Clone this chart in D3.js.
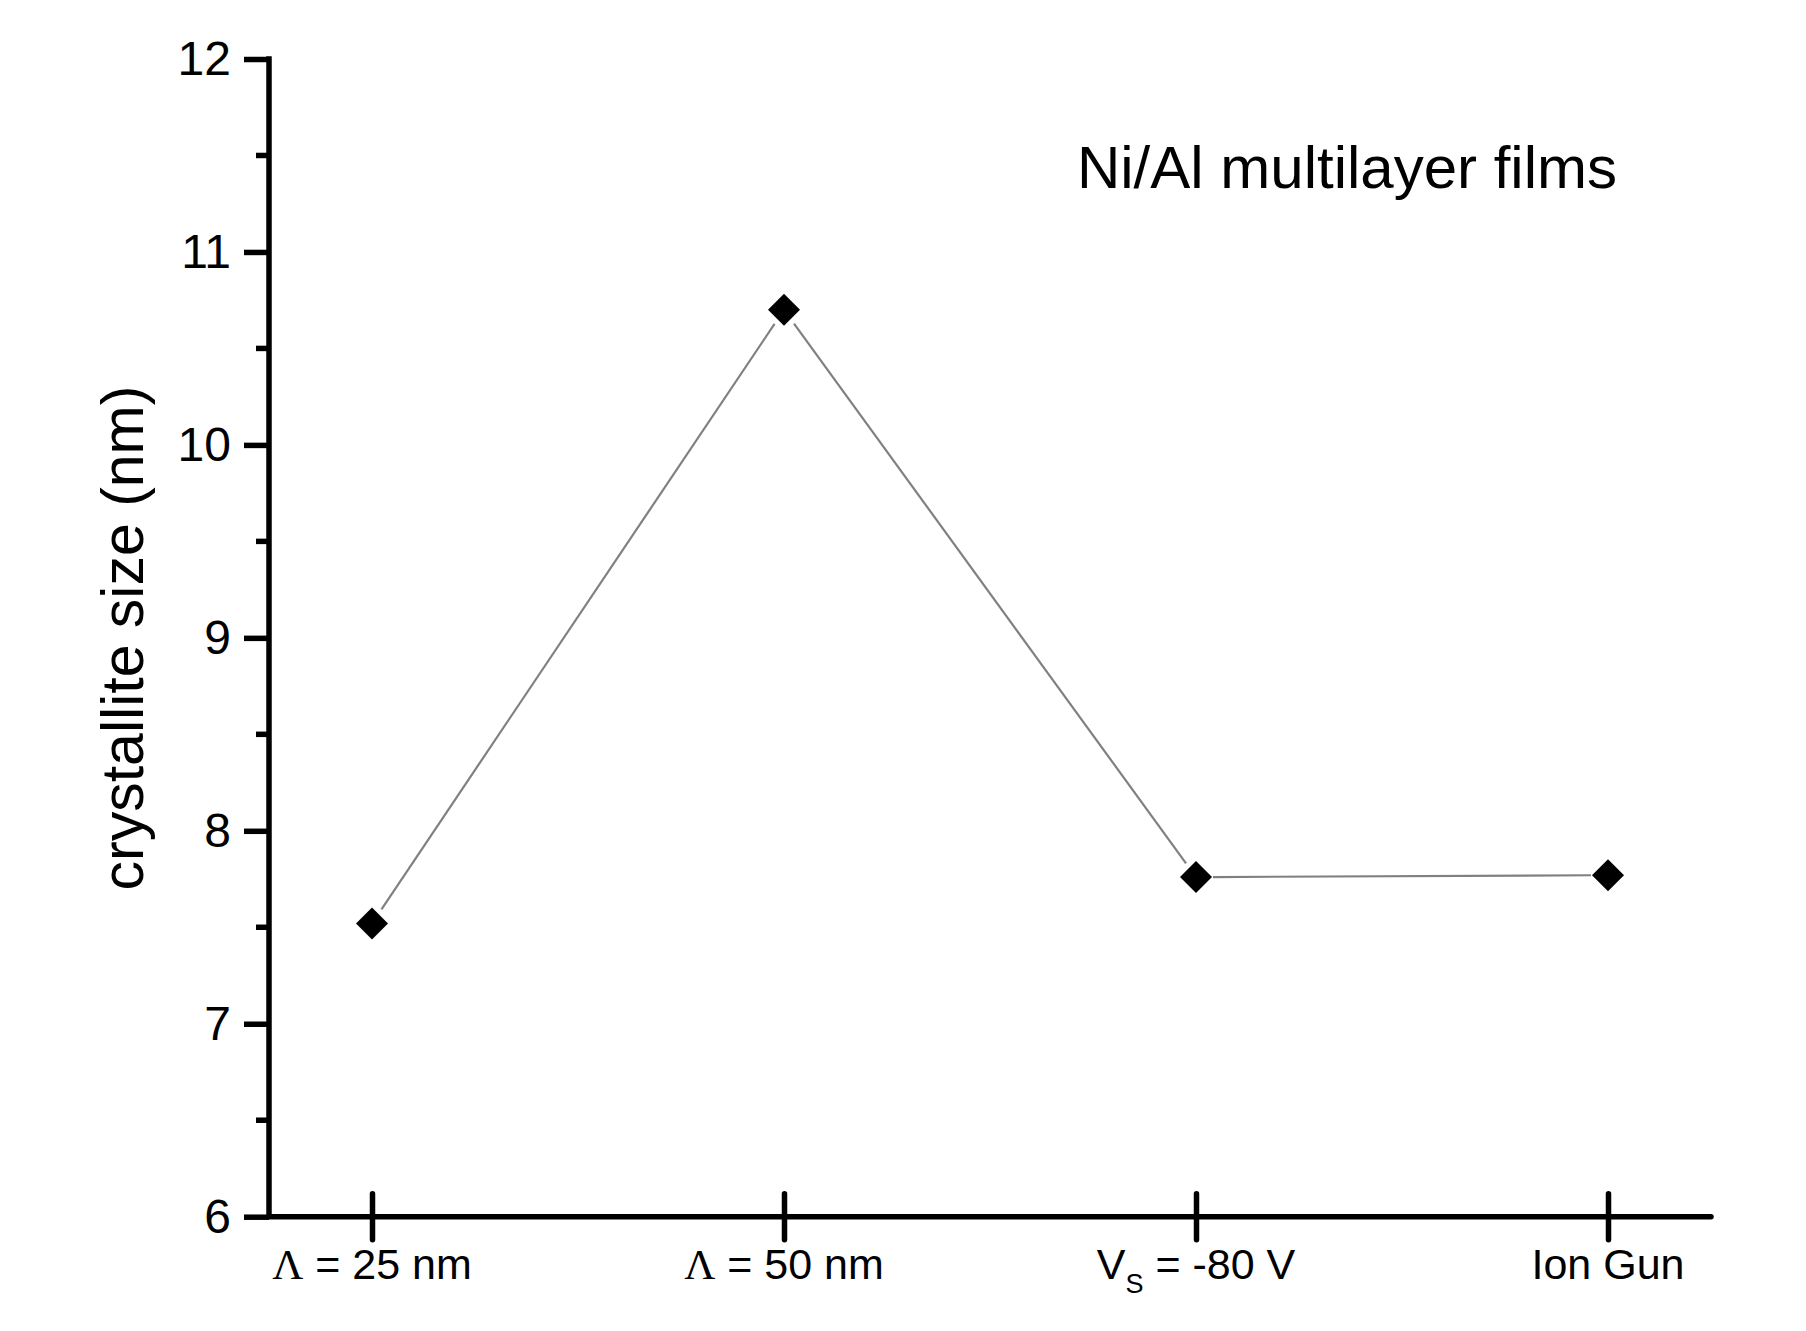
<!DOCTYPE html>
<html>
<head>
<meta charset="utf-8">
<script src="https://cdn.jsdelivr.net/npm/d3@7"></script>
<style>
  body { margin: 0; background: #fff; }
  svg { display: block; font-family: "Liberation Sans", Arial, sans-serif; }
</style>
</head>
<body>
<svg id="chart" width="1806" height="1331"></svg>
<script>
"use strict";

// data
const categories = ["L25", "L50", "VS", "ION"];
const sizes = [7.52, 10.70, 7.76, 7.77];
const yTicks = [6, 7, 8, 9, 10, 11, 12];

const svg = d3.select("#chart");

const x = d3.scalePoint()
  .domain(categories)
  .range([269, 1711])
  .padding(0.25);

const y = d3.scaleLinear()
  .domain([6, 12])
  .range([1216.7, 59]);

const ink = "#000";
const axisW = 5.5;

// y axis
const yAxis = svg.append("g")
  .attr("transform", "translate(269,0)")
  .call(d3.axisLeft(y).tickValues(yTicks).tickSize(25).tickSizeOuter(0).tickPadding(13)
    .tickFormat(d3.format("d")));
yAxis.select(".domain").remove();
yAxis.selectAll(".tick line").attr("stroke", ink).attr("stroke-width", axisW);
yAxis.selectAll(".tick text")
  .attr("font-size", 48).attr("font-family", "Liberation Sans, Arial, sans-serif")
  .attr("fill", ink).attr("dy", "0.32em");

// minor ticks
const minors = d3.range(6.5, 12, 1);
svg.append("g").selectAll("line")
  .data(minors)
  .join("line")
  .attr("x1", 256).attr("x2", 269)
  .attr("y1", d => y(d)).attr("y2", d => y(d))
  .attr("stroke", ink).attr("stroke-width", axisW);

svg.append("line")
  .attr("x1", 269).attr("x2", 269)
  .attr("y1", y(12) - axisW / 2).attr("y2", y(6))
  .attr("stroke", ink).attr("stroke-width", axisW);

// x axis
const xAxis = svg.append("g")
  .attr("transform", `translate(0,${y(6)})`)
  .call(d3.axisBottom(x).tickSize(23).tickSizeOuter(0).tickFormat(() => ""));
xAxis.select(".domain").remove();
xAxis.selectAll(".tick line")
  .attr("y1", -23).attr("stroke", ink).attr("stroke-width", axisW)
  .attr("stroke-linecap", "round");

svg.append("line")
  .attr("x1", 269).attr("x2", 1711)
  .attr("y1", y(6)).attr("y2", y(6))
  .attr("stroke", ink).attr("stroke-width", axisW)
  .attr("stroke-linecap", "round");

// x tick labels (with the Greek Lambda and a subscript)
const labY = y(6) + 62;
function lambdaLabel(cat, num) {
  const t = svg.append("text")
    .attr("x", x(cat)).attr("y", labY)
    .attr("text-anchor", "middle")
    .attr("font-size", 43).attr("fill", ink);
  t.append("tspan").attr("font-family", "Liberation Serif, Times New Roman, serif").text("Λ");
  t.append("tspan").text(" = " + num + " nm");
}
lambdaLabel("L25", 25);
lambdaLabel("L50", 50);

const vs = svg.append("text")
  .attr("x", x("VS")).attr("y", labY)
  .attr("text-anchor", "middle")
  .attr("font-size", 43).attr("fill", ink);
vs.append("tspan").text("V");
vs.append("tspan").attr("font-size", 27).attr("dy", 14).text("S");
vs.append("tspan").attr("dy", -14).text(" = -80 V");

svg.append("text")
  .attr("x", x("ION")).attr("y", labY)
  .attr("text-anchor", "middle")
  .attr("font-size", 43).attr("fill", ink)
  .text("Ion Gun");

// y axis title
svg.append("text")
  .attr("transform", "translate(143,638) rotate(-90)")
  .attr("text-anchor", "middle")
  .attr("font-size", 59).attr("fill", ink)
  .text("crystallite size (nm)");

// annotation
svg.append("text")
  .attr("x", 1617).attr("y", 188)
  .attr("text-anchor", "end")
  .attr("font-size", 60).attr("fill", ink)
  .text("Ni/Al multilayer films");

// connecting line, broken near each marker
const pts = categories.map((c, i) => [x(c), y(sizes[i])]);
const gap = 17;
const segs = d3.pairs(pts).map(([a, b]) => {
  const dx = b[0] - a[0], dy = b[1] - a[1];
  const len = Math.hypot(dx, dy);
  const ux = dx / len, uy = dy / len;
  return [a[0] + ux * gap, a[1] + uy * gap, b[0] - ux * gap, b[1] - uy * gap];
});
svg.append("g").selectAll("line")
  .data(segs)
  .join("line")
  .attr("x1", d => d[0]).attr("y1", d => d[1])
  .attr("x2", d => d[2]).attr("y2", d => d[3])
  .attr("stroke", "#808080").attr("stroke-width", 2.2);

// diamond markers
svg.append("g").selectAll("path")
  .data(categories)
  .join("path")
  .attr("d", d3.symbol().type(d3.symbolSquare).size(512))
  .attr("transform", (c, i) => `translate(${x(c)},${y(sizes[i])}) rotate(45)`)
  .attr("fill", ink);
</script>
</body>
</html>
